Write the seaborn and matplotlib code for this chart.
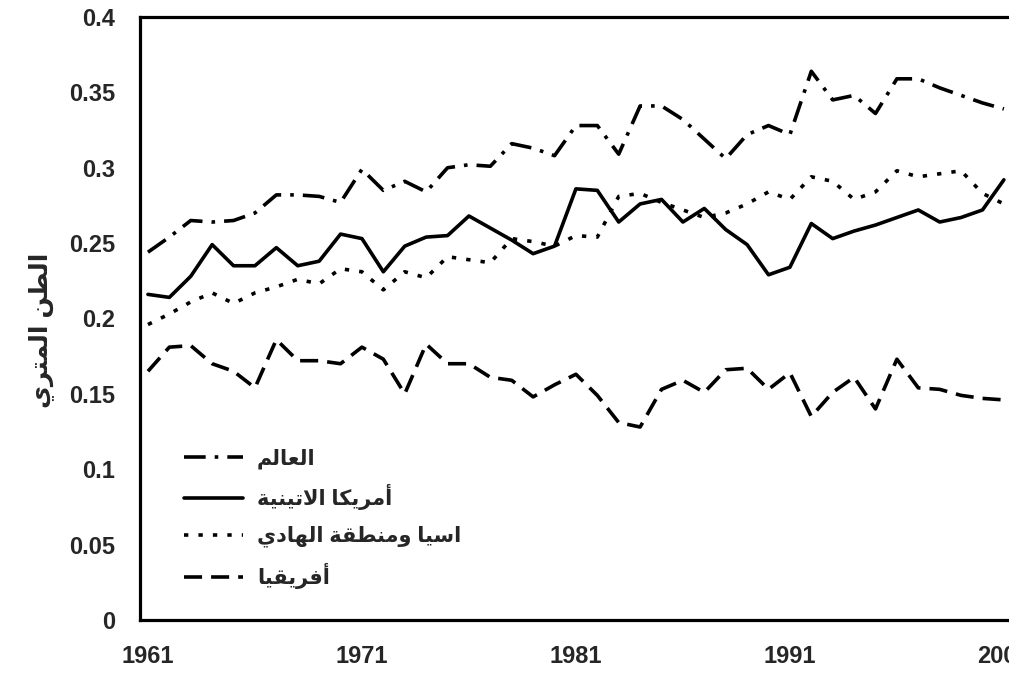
import numpy as np
import pandas as pd
import matplotlib
matplotlib.use("Agg")
import matplotlib.pyplot as plt
import seaborn as sns

YEARS = list(range(1961, 2002))

WORLD = [0.244, 0.254, 0.265, 0.264, 0.265, 0.270, 0.282, 0.282, 0.281, 0.277,
         0.299, 0.285, 0.291, 0.284, 0.300, 0.302, 0.301, 0.316, 0.313, 0.308,
         0.328, 0.328, 0.309, 0.341, 0.341, 0.332, 0.319, 0.306, 0.322, 0.328,
         0.322, 0.364, 0.345, 0.348, 0.336, 0.359, 0.359, 0.353, 0.348, 0.343,
         0.339]
LATIN_AMERICA = [0.216, 0.214, 0.228, 0.249, 0.235, 0.235, 0.247, 0.235, 0.238, 0.256,
                 0.253, 0.231, 0.248, 0.254, 0.255, 0.268, 0.260, 0.252, 0.243, 0.248,
                 0.286, 0.285, 0.264, 0.276, 0.279, 0.264, 0.273, 0.259, 0.249, 0.229,
                 0.234, 0.263, 0.253, 0.258, 0.262, 0.267, 0.272, 0.264, 0.267, 0.272,
                 0.292]
ASIA_PACIFIC = [0.196, 0.203, 0.211, 0.217, 0.210, 0.217, 0.221, 0.226, 0.223, 0.233,
                0.231, 0.219, 0.231, 0.227, 0.241, 0.239, 0.237, 0.253, 0.251, 0.248,
                0.255, 0.254, 0.281, 0.283, 0.277, 0.272, 0.267, 0.270, 0.276, 0.284,
                0.279, 0.294, 0.291, 0.279, 0.284, 0.298, 0.294, 0.296, 0.298, 0.283,
                0.276]
AFRICA = [0.165, 0.181, 0.182, 0.170, 0.165, 0.154, 0.186, 0.172, 0.172, 0.170,
          0.181, 0.173, 0.150, 0.183, 0.170, 0.170, 0.161, 0.159, 0.148, 0.156,
          0.163, 0.149, 0.131, 0.128, 0.153, 0.159, 0.151, 0.166, 0.167, 0.153,
          0.164, 0.135, 0.151, 0.161, 0.140, 0.173, 0.154, 0.153, 0.149, 0.147,
          0.146]

SERIES_NAMES = ["العالم", "أمريكا الاتينية", "اسيا ومنطقة الهادي", "أفريقيا"]
Y_LABEL = "الطن المتري"
X_TICKS = [1961, 1971, 1981, 1991, 2001]
Y_TICKS = [0, 0.05, 0.1, 0.15, 0.2, 0.25, 0.3, 0.35, 0.4]

# matplotlib has no arabic shaping, so map letters to presentation forms
ARABIC_FORMS = {
    "ا": (0xFE8D, 0xFE8E), "أ": (0xFE83, 0xFE84), "د": (0xFEA9, 0xFEAA),
    "ر": (0xFEAD, 0xFEAE), "و": (0xFEED, 0xFEEE), "ة": (0xFE93, 0xFE94),
    "ت": (0xFE95, 0xFE96, 0xFE97, 0xFE98), "س": (0xFEB1, 0xFEB2, 0xFEB3, 0xFEB4),
    "ط": (0xFEC1, 0xFEC2, 0xFEC3, 0xFEC4), "ع": (0xFEC9, 0xFECA, 0xFECB, 0xFECC),
    "ف": (0xFED1, 0xFED2, 0xFED3, 0xFED4), "ق": (0xFED5, 0xFED6, 0xFED7, 0xFED8),
    "ك": (0xFED9, 0xFEDA, 0xFEDB, 0xFEDC), "ل": (0xFEDD, 0xFEDE, 0xFEDF, 0xFEE0),
    "م": (0xFEE1, 0xFEE2, 0xFEE3, 0xFEE4), "ن": (0xFEE5, 0xFEE6, 0xFEE7, 0xFEE8),
    "ه": (0xFEE9, 0xFEEA, 0xFEEB, 0xFEEC), "ي": (0xFEF1, 0xFEF2, 0xFEF3, 0xFEF4),
}
LAM_ALEF = {"ا": (0xFEFB, 0xFEFC), "أ": (0xFEF7, 0xFEF8)}


def shape(text):
    out = []
    prev_dual = False
    i = 0
    while i < len(text):
        c = text[i]
        forms = ARABIC_FORMS.get(c)
        if forms is None:
            out.append(c)
            prev_dual = False
            i += 1
            continue
        if c == "ل" and i + 1 < len(text) and text[i + 1] in LAM_ALEF:
            lig = LAM_ALEF[text[i + 1]]
            out.append(chr(lig[1] if prev_dual else lig[0]))
            prev_dual = False
            i += 2
            continue
        nxt = text[i + 1] if i + 1 < len(text) else ""
        joins_next = len(forms) == 4 and nxt in ARABIC_FORMS
        if prev_dual and joins_next:
            idx = 3
        elif prev_dual:
            idx = 1
        elif joins_next:
            idx = 2
        else:
            idx = 0
        out.append(chr(forms[idx]))
        prev_dual = len(forms) == 4
        i += 1
    return "".join(reversed(out))


sns.set_theme(style="white")
plt.rcParams["font.family"] = ["Liberation Sans", "DejaVu Sans"]

labels = [shape(s) for s in SERIES_NAMES]
df = pd.concat([
    pd.DataFrame({"year": YEARS, "value": vals, "region": lab})
    for vals, lab in zip([WORLD, LATIN_AMERICA, ASIA_PACIFIC, AFRICA], labels)
])

dashes = {
    labels[0]: (6, 2.5, 1, 2.5),
    labels[1]: "",
    labels[2]: (1.2, 2.8),
    labels[3]: (5, 2.5),
}

fig = plt.figure(figsize=(10.09, 6.75), dpi=100)
ax = fig.add_axes([0.1388, 0.0815, 0.875, 0.8933])

sns.lineplot(data=df, x="year", y="value", hue="region", style="region",
             palette=["black"] * 4, dashes=dashes, linewidth=2.6, ax=ax,
             legend=True)

ax.set_xlim(1960.63, 2001.89)
ax.set_ylim(0, 0.4)
ax.set_xticks(X_TICKS)
ax.set_yticks(Y_TICKS)
ax.set_yticklabels([f"{v:g}" for v in Y_TICKS])
ax.tick_params(axis="both", length=0, labelsize=17)
ax.tick_params(axis="x", pad=18)
ax.tick_params(axis="y", pad=18)
for lab in ax.get_xticklabels() + ax.get_yticklabels():
    lab.set_fontweight("bold")

ax.set_xlabel("")
ax.set_ylabel(shape(Y_LABEL), fontsize=18, fontweight="bold")
ax.yaxis.set_label_coords(-0.097, 0.48)

for side in ["left", "top", "bottom"]:
    ax.spines[side].set_linewidth(2.3)
    ax.spines[side].set_color("black")
ax.spines["right"].set_visible(False)

handles, _ = ax.get_legend_handles_labels()
leg = ax.legend(handles, labels, loc="upper left", bbox_to_anchor=(0.05, 0.285),
                frameon=False, fontsize=15, handlelength=2.8, handletextpad=0.7,
                labelspacing=0.75, borderaxespad=0, borderpad=0)
for t in leg.get_texts():
    t.set_fontweight("bold")
for h in leg.get_lines():
    h.set_linewidth(2.6)

fig.savefig("out.png", dpi=100)
